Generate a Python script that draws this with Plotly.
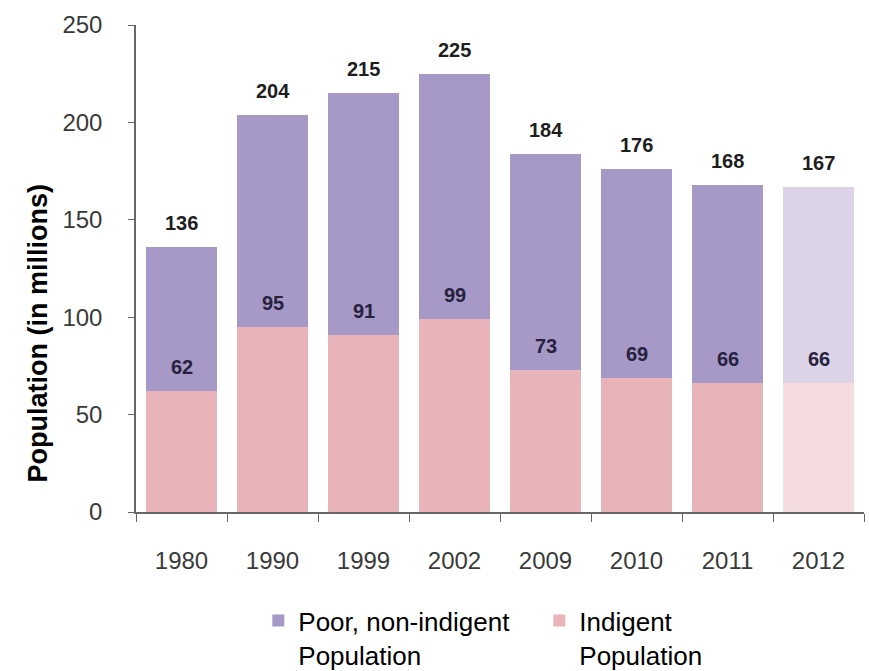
import plotly.graph_objects as go

years = ["1980", "1990", "1999", "2002", "2009", "2010", "2011", "2012"]
total = [136, 204, 215, 225, 184, 176, 168, 167]
indigent = [62, 95, 91, 99, 73, 69, 66, 66]
poor_non_indigent = [t - i for t, i in zip(total, indigent)]

purple = "#a699c8"
purple_light = "#dcd3e6"
pink = "#e8b4b9"
pink_light = "#f4dcdf"

purple_cols = [purple] * 7 + [purple_light]
pink_cols = [pink] * 7 + [pink_light]

FONT = "Liberation Sans, Arial, sans-serif"

fig = go.Figure()
fig.add_trace(go.Bar(
    x=years, y=indigent, name="Indigent<br>Population",
    marker=dict(color=pink_cols, line=dict(width=0)), width=0.77,
    legendrank=2,
))
fig.add_trace(go.Bar(
    x=years, y=poor_non_indigent, name="Poor, non-indigent<br>Population",
    marker=dict(color=purple_cols, line=dict(width=0)), width=0.77,
    legendrank=1,
))

# total labels above each stack (category index positions)
for i, t in enumerate(total):
    fig.add_annotation(x=i, y=t, text=f"<b>{t}</b>", showarrow=False,
                       yanchor="middle", yshift=24,
                       font=dict(family=FONT, size=20, color="#1e1e1e"))
# indigent labels just above the lower segment
for i, v in enumerate(indigent):
    fig.add_annotation(x=i, y=v, text=f"<b>{v}</b>", showarrow=False,
                       yanchor="middle", yshift=24,
                       font=dict(family=FONT, size=20, color="#27223d"))

# y-axis title
fig.add_annotation(xref="paper", yref="paper", x=-0.135, y=0.366,
                   text="<b>Population (in millions)</b>", textangle=-90,
                   showarrow=False, xanchor="center", yanchor="middle",
                   font=dict(family=FONT, size=27, color="black"))

fig.update_layout(
    barmode="stack",
    width=869, height=671,
    margin=dict(l=136, r=5, t=25, b=159, autoexpand=False),
    paper_bgcolor="white", plot_bgcolor="white",
    font=dict(family=FONT, color="#3a3a3a"),
    showlegend=True,
    legend=dict(orientation="h", x=0.168, xanchor="left", y=-0.175, yanchor="top",
                font=dict(family=FONT, size=26, color="black"), valign="top",
                traceorder="normal", itemwidth=30, entrywidth=236,
                bgcolor="rgba(0,0,0,0)"),
)
fig.update_xaxes(
    type="category", showline=True, linecolor="#666666", linewidth=1.5,
    ticks="outside", tickson="boundaries", ticklen=8, tickcolor="#666666",
    tickfont=dict(family=FONT, size=24, color="#3a3a3a"), ticklabelstandoff=26,
    showgrid=False, zeroline=False, tickangle=0,
)
fig.update_yaxes(
    range=[0, 250], dtick=50, showline=True, linecolor="#666666", linewidth=1.5,
    ticks="outside", ticklen=6, tickcolor="#666666",
    tickfont=dict(family=FONT, size=24, color="#3a3a3a"), ticklabelstandoff=21,
    showgrid=False, zeroline=False,
)

fig.write_html("out.html")
